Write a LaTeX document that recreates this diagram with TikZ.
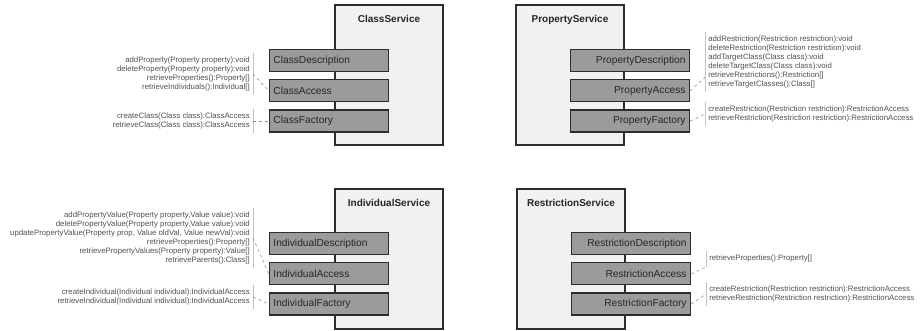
\documentclass[tikz,border=0pt]{standalone}
\usepackage{fontspec}
\setmainfont{Liberation Sans}
\usetikzlibrary{positioning}
\definecolor{svcgray}{RGB}{241,241,241}
\definecolor{partgray}{RGB}{155,155,155}
\definecolor{edgegray}{RGB}{45,45,45}
\definecolor{notegray}{RGB}{80,80,80}
\definecolor{linegray}{RGB}{195,195,195}

\begin{document}
\begin{tikzpicture}[x=1pt, y=1pt, node distance=7pt, >=stealth]
  \tikzstyle{svcbox} = [rectangle, draw=edgegray, line width=1.4pt, fill=svcgray, minimum width=108pt, minimum height=140pt]
  \tikzstyle{svctitle} = [inner sep=0pt, font=\bfseries\fontsize{10}{12}\selectfont, text=black!85]
  \tikzstyle{partbox} = [rectangle, draw=edgegray, line width=1.1pt, fill=partgray, text width=111pt, inner sep=4pt, minimum height=22pt, font=\fontsize{10.2}{12}\selectfont, text=black!85]
  \tikzstyle{notetext} = [inner xsep=3pt, inner ysep=4pt, font=\fontsize{7.8}{9}\selectfont, text=notegray]
  \tikzstyle{bracketline} = [draw=linegray, line width=0.6pt]
  \tikzstyle{dashlink} = [draw=linegray!75!black, dashed, line width=0.6pt]

  \useasboundingbox (0,0) rectangle (920,331);

  \node[svcbox] (class_svc) at (389,256) {};
  \node[svctitle] (class_title) [below=11pt of class_svc.north] {ClassService};
  \node[partbox, align=left] (class_desc) [below left=45pt and 0pt of class_svc.north] {ClassDescription};
  \node[partbox, align=left] (class_access) [below=of class_desc] {ClassAccess};
  \node[partbox, align=left] (class_factory) [below=of class_access] {ClassFactory};
  \node[notetext, align=right] (class_access_note) [left=16pt of class_access, yshift=17pt]
    {addProperty(Property property):void\\deleteProperty(Property property):void\\retrieveProperties():Property[]\\retrieveIndividuals():Individual[]};
  \node[notetext, align=right] (class_factory_note) [left=16pt of class_factory]
    {createClass(Class class):ClassAccess\\retrieveClass(Class class):ClassAccess};

  \node[svcbox] (prop_svc) at (570,256) {};
  \node[svctitle] (prop_title) [below=11pt of prop_svc.north] {PropertyService};
  \node[partbox, align=right] (prop_desc) [below right=45pt and 0pt of prop_svc.north] {PropertyDescription};
  \node[partbox, align=right] (prop_access) [below=of prop_desc] {PropertyAccess};
  \node[partbox, align=right] (prop_factory) [below=of prop_access] {PropertyFactory};
  \node[notetext, align=left] (prop_access_note) [right=15pt of prop_access, yshift=29pt]
    {addRestriction(Restriction restriction):void\\deleteRestriction(Restriction restriction):void\\addTargetClass(Class class):void\\deleteTargetClass(Class class):void\\retrieveRestrictions():Restriction[]\\retrieveTargetClasses():Class[]};
  \node[notetext, align=left] (prop_factory_note) [right=15pt of prop_factory, yshift=7pt]
    {createRestriction(Restriction restriction):RestrictionAccess\\retrieveRestriction(Restriction restriction):RestrictionAccess};

  \node[svcbox] (ind_svc) at (389,72) {};
  \node[svctitle] (ind_title) [below=11pt of ind_svc.north] {IndividualService};
  \node[partbox, align=left] (ind_desc) [below left=44pt and 0pt of ind_svc.north] {IndividualDescription};
  \node[partbox, align=left] (ind_access) [below=of ind_desc] {IndividualAccess};
  \node[partbox, align=left] (ind_factory) [below=of ind_access] {IndividualFactory};
  \node[notetext, align=right] (ind_access_note) [left=16pt of ind_access, yshift=36pt]
    {addPropertyValue(Property property,Value value):void\\deletePropertyValue(Property property,Value value):void\\updatePropertyValue(Property prop, Value oldVal, Value newVal):void\\retrieveProperties():Property[]\\retrievePropertyValues(Property property):Value[]\\retrieveParents():Class[]};
  \node[notetext, align=right] (ind_factory_note) [left=16pt of ind_factory, yshift=7pt]
    {createIndividual(Individual individual):IndividualAccess\\retrieveIndividual(Individual individual):IndividualAccess};

  \node[svcbox] (restr_svc) at (571,72) {};
  \node[svctitle] (restr_title) [below=11pt of restr_svc.north] {RestrictionService};
  \node[partbox, align=right] (restr_desc) [below right=44pt and 0pt of restr_svc.north] {RestrictionDescription};
  \node[partbox, align=right] (restr_access) [below=of restr_desc] {RestrictionAccess};
  \node[partbox, align=right] (restr_factory) [below=of restr_access] {RestrictionFactory};
  \node[notetext, align=left] (restr_access_note) [right=15pt of restr_access, yshift=15pt]
    {retrieveProperties():Property[]};
  \node[notetext, align=left] (restr_factory_note) [right=15pt of restr_factory, yshift=10pt]
    {createRestriction(Restriction restriction):RestrictionAccess\\retrieveRestriction(Restriction restriction):RestrictionAccess};

  \draw[bracketline] (class_access_note.north east) -- (class_access_note.south east);
  \draw[bracketline] (class_factory_note.north east) -- (class_factory_note.south east);
  \draw[bracketline] (prop_access_note.north west) -- (prop_access_note.south west);
  \draw[bracketline] (prop_factory_note.north west) -- (prop_factory_note.south west);
  \draw[bracketline] (ind_access_note.north east) -- (ind_access_note.south east);
  \draw[bracketline] (ind_factory_note.north east) -- (ind_factory_note.south east);
  \draw[bracketline] (restr_access_note.north west) -- (restr_access_note.south west);
  \draw[bracketline] (restr_factory_note.north west) -- (restr_factory_note.south west);

  \draw[dashlink] (class_access_note.east) -- (class_access.west);
  \draw[dashlink] (class_factory_note.east) -- (class_factory.west);
  \draw[dashlink] (prop_access.east) -- ([yshift=15pt]prop_access_note.south west);
  \draw[dashlink] (prop_factory.east) -- (prop_factory_note.west);
  \draw[dashlink] (ind_access_note.east) -- (ind_access.west);
  \draw[dashlink] (ind_factory_note.east) -- (ind_factory.west);
  \draw[dashlink] (restr_access.east) -- (restr_access_note.south west);
  \draw[dashlink] (restr_factory.east) -- (restr_factory_note.west);
\end{tikzpicture}
\end{document}
